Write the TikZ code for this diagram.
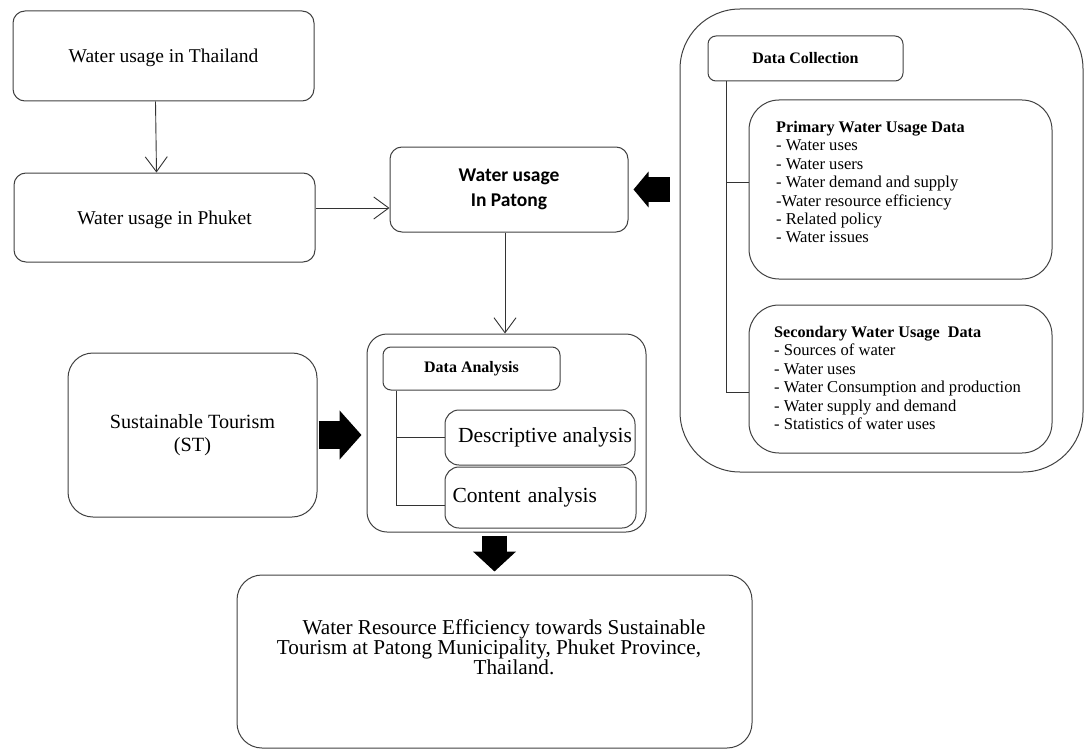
\documentclass[tikz,border=0pt]{standalone}
\usepackage{fontspec}
\setmainfont{Liberation Serif}
\newfontfamily\calibri{Carlito}
\usetikzlibrary{arrows.meta}
\tikzset{
  box/.style={draw=black!75, line width=1pt, rounded corners=#1, align=center, inner sep=0pt},
  box/.default=12pt,
  plain/.style={inner sep=0pt, align=left, anchor=north west},
  thinarrow/.style={draw=black!80, line width=0.9pt, -{Straight Barb[length=15pt,width=22pt]}},
  treeline/.style={draw=black!80, line width=0.9pt},
  blockarrow/.style={draw=black, line width=#1}
}
\begin{document}
\begin{tikzpicture}[x=1pt,y=-1pt]
\useasboundingbox (0,0) rectangle (1086,749);

% left column
\node[box, minimum width=301pt, minimum height=90pt, text depth=0pt, font=\fontsize{19.5}{23}\selectfont] (thai) at (163.5,56) {Water usage in Thailand};
\node[box, minimum width=301pt, minimum height=89pt, text depth=0pt, font=\fontsize{19.5}{23}\selectfont] (phuket) at (164.5,217.5) {Water usage in Phuket};
\node[box=25pt, minimum width=249pt, minimum height=164pt, font=\fontsize{20.2}{23}\selectfont] (st) at (192.5,435) {Sustainable Tourism\\(ST)};

% Patong
\node[box, minimum width=238pt, minimum height=85pt, font=\calibri\bfseries\fontsize{19.5}{25}\selectfont] (patong) at (509,189.5) {Water usage\\In Patong};

% Data analysis
\node[box=20pt, minimum width=279pt, minimum height=198pt] (da) at (506.5,433) {};
\node[box=8pt, minimum width=177pt, minimum height=43pt, font=\bfseries\fontsize{16}{18}\selectfont] (datitle) at (471.5,368.5) {Data Analysis};
\node[box=14pt, minimum width=190pt, minimum height=55pt, font=\fontsize{21.5}{24}\selectfont] (desc) at (540,437.5) {\hspace*{10pt}Descriptive analysis};
\node[box=14pt, minimum width=191pt, minimum height=61pt, font=\fontsize{21.5}{24}\selectfont, text width=184pt, align=left] (content) at (540.5,497.5) {\hspace*{4pt}Content analysis};

% Final
\node[box=25pt, minimum width=515pt, minimum height=173pt] (final) at (494.5,661.5) {};
\node[inner sep=0pt, align=center, anchor=north, font=\fontsize{21.2}{20.3}\selectfont] (finaltext) at (489,619)
  {\hspace*{30pt}Water Resource Efficiency towards Sustainable\\Tourism at Patong Municipality, Phuket Province,\\\hspace*{50pt}Thailand.};

% Data collection
\node[box=60pt, minimum width=403pt, minimum height=463pt] (dc) at (881.5,240.5) {};
\node[box=8pt, minimum width=195pt, minimum height=45pt, font=\bfseries\fontsize{16}{18}\selectfont] (dctitle) at (805.5,58.5) {Data Collection};
\node[box=30pt, minimum width=303pt, minimum height=179pt] (prim) at (900.5,189.5) {};
\node[plain, font=\fontsize{16.6}{18.4}\selectfont] (primtext) at (776,121)
  {{\fontsize{16.2}{18.4}\selectfont\bfseries Primary Water Usage Data}\\- Water uses\\- Water users\\- Water demand and supply\\-Water resource efficiency\\- Related policy\\- Water issues};
\node[box=30pt, minimum width=303pt, minimum height=148pt] (sec) at (900.5,379) {};
\node[plain, font=\fontsize{16.6}{18.4}\selectfont] (sectext) at (774,326)
  {{\fontsize{16.2}{18.4}\selectfont\bfseries Secondary Water Usage\ \ Data}\\- Sources of water\\- Water uses\\- Water Consumption and production\\- Water supply and demand\\- Statistics of water uses};

% thin arrows
\draw[thinarrow] ([xshift=-8pt]thai.south) -- ([xshift=-8pt]phuket.north);
\draw[thinarrow] ([yshift=9.5pt]phuket.east) -- ([yshift=9.5pt]phuket.east -| patong.west);
\draw[thinarrow] ([xshift=-4pt]patong.south) -- ([xshift=-4pt]patong.south |- da.north);

% tree lines
\draw[treeline] ([xshift=14pt]datitle.south west) |- (desc.west);
\draw[treeline] ([xshift=14pt]datitle.south west) |- ([yshift=-8pt]content.west);
\draw[treeline] ([xshift=19pt]dctitle.south west) |- ([yshift=7.5pt]prim.west);
\draw[treeline] ([xshift=19pt]dctitle.south west) |- ([yshift=-13pt]sec.west);

% block arrows
\draw[blockarrow=28pt, -{Triangle[length=22pt,width=48pt]}, shorten <=1pt, shorten >=5pt] (st.east) -- (st.east -| da.west);
\draw[blockarrow=25pt, -{Triangle[length=15pt,width=35pt]}, shorten <=10pt, shorten >=5pt] (dc.west |- patong.east) -- (patong.east);
\draw[blockarrow=25pt, -{Triangle[length=20pt,width=42pt]}, shorten <=3pt, shorten >=3pt] (final.north |- da.south) -- (final.north);
\end{tikzpicture}
\end{document}
